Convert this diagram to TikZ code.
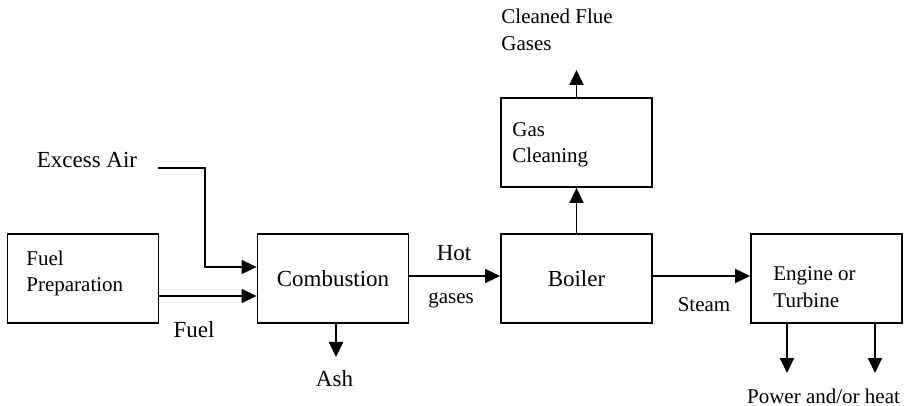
\documentclass[tikz,border=0pt]{standalone}
\usepackage{fontspec}
\setmainfont{Liberation Serif}
\usetikzlibrary{arrows.meta}
\begin{document}
\begin{tikzpicture}[x=0.5pt,y=-0.5pt,
  box/.style={draw, line width=0.9pt, minimum width=75.5pt, minimum height=44.5pt, inner sep=0pt},
  big/.style={font=\fontsize{11.5}{13.5}\selectfont, inner sep=1pt},
  small/.style={font=\fontsize{10.5}{13.2}\selectfont, inner sep=1pt, align=left},
  arr/.style={line width=0.9pt, -{Triangle[length=7.5pt,width=7pt]}},
  ln/.style={line width=0.9pt}]
\useasboundingbox (0,0) rectangle (905,406);
% boxes
\node[box] (fp) at (83,278.5) {};
\node[box, big] (comb) at (333,278.5) {Combustion};
\node[box] (gc) at (576.5,142.5) {};
\node[box, big] (boil) at (576.5,278.5) {Boiler};
\node[box] (eng) at (826.5,278.5) {};
% box texts
\node[small, anchor=west] (fpt) at (24,273.5) {Fuel\\Preparation};
\node[small, anchor=west] (gct) at (510,145) {Gas\\Cleaning};
\node[small, anchor=west] (engt) at (771,287) {Engine or\\Turbine};
% labels
\node[big] (ea) at (87,160) {Excess Air};
\node[big] (fuel) at (194,330) {Fuel};
\node[big] (ash) at (334.5,379) {Ash};
\node[big] (hot) at (454,253) {Hot};
\node[small] (gases) at (451,300) {gases};
\node[small] (steam) at (704,305) {Steam};
\node[small, anchor=west] (cfg) at (499,30) {Cleaned Flue\\Gases};
\node[small] (pow) at (823.5,396) {Power and/or heat};
% coordinates
\coordinate (eaStart) at (158,168);
\coordinate (eaBend) at (205,168);
\coordinate (ashEnd) at (336,357);
\coordinate (cfgEnd) at (576.5,70);
\coordinate (p1) at (787,373);
\coordinate (p2) at (875,373);
% connectors
\draw[arr] (eaStart) -- (eaBend) |- (comb.west |- 0,267);
\draw[arr] (fp.east |- 0,296) -- (comb.west |- 0,296);
\draw[arr] (comb.south -| ashEnd) -- (ashEnd);
\draw[arr] (comb.east |- 0,276) -- (boil.west |- 0,276);
\draw[arr] (boil.north) -- (gc.south);
\draw[arr] (gc.north) -- (cfgEnd);
\draw[arr] (boil.east |- 0,276) -- (eng.west |- 0,276);
\draw[arr] (eng.south -| p1) -- (p1);
\draw[arr] (eng.south -| p2) -- (p2);
\end{tikzpicture}
\end{document}
